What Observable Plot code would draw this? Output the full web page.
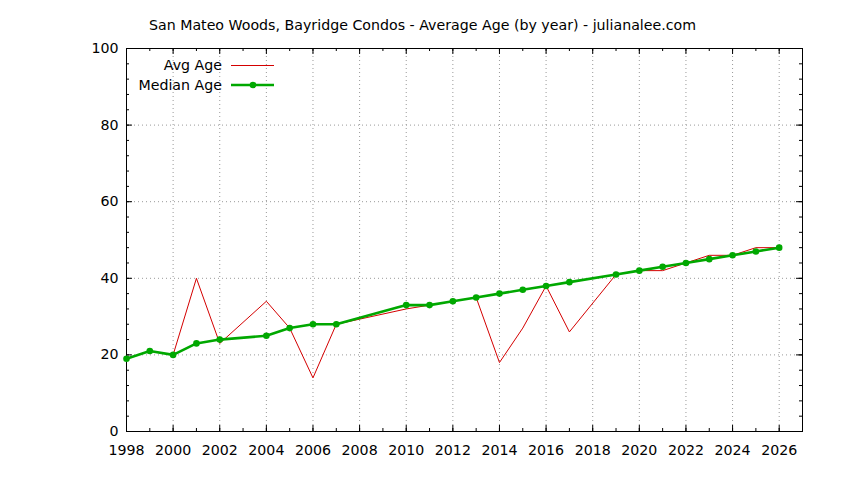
<!DOCTYPE html>
<html>
<head>
<meta charset="utf-8">
<script src="https://cdn.jsdelivr.net/npm/d3@7"></script>
<script src="https://cdn.jsdelivr.net/npm/@observablehq/plot@0.6"></script>
<style>
  html, body { margin: 0; padding: 0; background: #fff; }
  svg { font-family: "DejaVu Sans", sans-serif; }
</style>
</head>
<body>
<div id="chart"></div>
<script>
const title = "San Mateo Woods, Bayridge Condos - Average Age (by year) - julianalee.com";
const years = [1998, 1999, 2000, 2001, 2002, 2004, 2005, 2006, 2007, 2010, 2011, 2012, 2013, 2014, 2015, 2016, 2017, 2019, 2020, 2021, 2022, 2023, 2024, 2025, 2026];
const avgAge = [19, 21, 20, 40, 23, 34, 27, 14, 28, 32, 33, 34, 35, 18, 27, 38, 26, 41, 42, 42, 44, 46, 46, 48, 48];
const medianAge = [19, 21, 20, 23, 24, 25, 27, 28, 28, 33, 33, 34, 35, 36, 37, 38, 39, 41, 42, 43, 44, 45, 46, 47, 48];
const xMajorTicks = d3.range(1998, 2027, 2);
const xMinorTicks = d3.range(1998, 2028, 1);
const yMajorTicks = [0, 20, 40, 60, 80, 100];
const yMinorTicks = d3.range(0, 101, 4);
const seriesNames = ["Avg Age", "Median Age"];

const avgData = years.map((y, i) => ({year: y, value: avgAge[i]}));
const medData = years.map((y, i) => ({year: y, value: medianAge[i]}));

const W = 844, H = 480;
const mL = 126, mR = 42, mT = 48, mB = 49;
const fw = W - mL - mR, fh = H - mT - mB;
const RED = "#d40000", GREEN = "#00a800";
const FS = 14.2;

const plot = Plot.plot({
  width: W, height: H,
  marginLeft: mL, marginRight: mR, marginTop: mT, marginBottom: mB,
  style: {fontFamily: "DejaVu Sans, sans-serif", fontSize: FS + "px", background: "#fff", color: "#000"},
  x: {domain: [1998, 2027], label: null},
  y: {domain: [0, 100], label: null},
  marks: [
    Plot.gridX(xMajorTicks, {stroke: "#999", strokeOpacity: 1, strokeDasharray: "1,3"}),
    Plot.gridY(yMajorTicks, {stroke: "#999", strokeOpacity: 1, strokeDasharray: "1,3"}),
    // inward tick marks on all four sides
    Plot.tickX(xMajorTicks, {x: d => d, insetTop: fh - 6, stroke: "#000"}),
    Plot.tickX(xMajorTicks, {x: d => d, insetBottom: fh - 6, stroke: "#000"}),
    Plot.tickX(xMinorTicks, {x: d => d, insetTop: fh - 3, stroke: "#000"}),
    Plot.tickX(xMinorTicks, {x: d => d, insetBottom: fh - 3, stroke: "#000"}),
    Plot.tickY(yMajorTicks, {y: d => d, insetRight: fw - 6, stroke: "#000"}),
    Plot.tickY(yMajorTicks, {y: d => d, insetLeft: fw - 6, stroke: "#000"}),
    Plot.tickY(yMinorTicks, {y: d => d, insetRight: fw - 3, stroke: "#000"}),
    Plot.tickY(yMinorTicks, {y: d => d, insetLeft: fw - 3, stroke: "#000"}),
    Plot.axisX(xMajorTicks, {tickSize: 0, tickPadding: 13, tickFormat: "d", fontSize: FS, label: null}),
    Plot.axisY(yMajorTicks, {tickSize: 0, tickPadding: 8, fontSize: FS, label: null}),
    Plot.frame({stroke: "#000"}),
    Plot.line(avgData, {x: "year", y: "value", stroke: RED, strokeWidth: 1}),
    Plot.line(medData, {x: "year", y: "value", stroke: GREEN, strokeWidth: 2.6}),
    Plot.dot(medData, {x: "year", y: "value", fill: GREEN, r: 3.3}),
    Plot.text([title], {frameAnchor: "top", dy: -29, dx: -42, fontSize: FS, fill: "#000"})
  ]
});
document.getElementById("chart").appendChild(plot);

// legend (top-left inside the frame)
const svg = d3.select(plot);
const lg = svg.append("g").attr("font-family", "DejaVu Sans, sans-serif").attr("font-size", FS);
const rows = [{name: seriesNames[0], color: RED, w: 1, dot: false, y: 65.5},
              {name: seriesNames[1], color: GREEN, w: 2.6, dot: true, y: 85}];
rows.forEach(r => {
  lg.append("text").attr("x", 222).attr("y", r.y).attr("dy", "0.35em")
    .attr("text-anchor", "end").attr("fill", "#000").text(r.name);
  lg.append("line").attr("x1", 231).attr("x2", 274).attr("y1", r.y).attr("y2", r.y)
    .attr("stroke", r.color).attr("stroke-width", r.w);
  if (r.dot) lg.append("circle").attr("cx", 253).attr("cy", r.y).attr("r", 3.3).attr("fill", r.color);
});
</script>
</body>
</html>
